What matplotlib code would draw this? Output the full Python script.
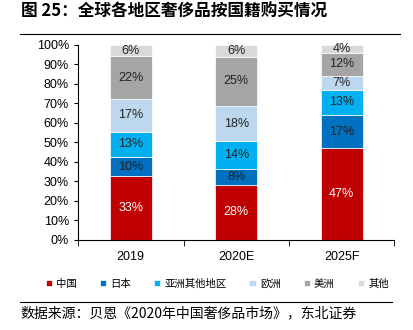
import numpy as np
import matplotlib.pyplot as plt
from matplotlib.ticker import FuncFormatter

plt.rcParams['font.family'] = ['Liberation Sans', 'Noto Sans CJK SC', 'DejaVu Sans']

years = ['2019', '2020E', '2025F']
regions = ['中国', '日本', '亚洲其他地区', '欧洲', '美洲', '其他']
china = [33, 28, 47]
japan = [10, 8, 17]
asia_other = [13, 14, 13]
europe = [17, 18, 7]
america = [22, 25, 12]
other = [6, 6, 4]
colors = ['#C00000', '#0070C0', '#00B0F0', '#BDD7EE', '#A5A5A5', '#D9D9D9']
label_colors = ['white', '#222222', '#222222', '#222222', '#222222', '#222222']

series = np.array([china, japan, asia_other, europe, america, other], dtype=float)
# bars are drawn as shares of 100% (rounded labels don't always add to 100)
shares = series / series.sum(axis=0) * 100

fig = plt.figure(figsize=(4.13, 3.3), dpi=100)
ax = fig.add_axes([0.189, 0.273, 0.766, 0.591])

x = np.arange(len(years))
bottom = np.zeros(len(years))
for i, name in enumerate(regions):
    ax.bar(x, shares[i], 0.4, bottom=bottom, color=colors[i], label=name,
           edgecolor='white', linewidth=0.5)
    for j in range(len(years)):
        ax.text(x[j], bottom[j] + shares[i][j] / 2, f'{int(series[i][j])}%',
                ha='center', va='center', fontsize=9, color=label_colors[i])
    bottom += shares[i]

ax.set_xlim(-0.5, 2.5)
ax.set_ylim(0, 100)
ax.set_yticks(np.arange(0, 101, 10))
ax.yaxis.set_major_formatter(FuncFormatter(lambda v, p: f'{int(v)}%'))
ax.set_xticks(x)
ax.set_xticklabels(years)
ax.set_xticks([-0.5, 0.5, 1.5, 2.5], minor=True)
ax.tick_params(axis='x', which='major', length=0, labelsize=9, pad=8)
ax.tick_params(axis='x', which='minor', length=4, direction='out')
ax.tick_params(axis='y', length=3, labelsize=9)
ax.spines['top'].set_visible(False)
ax.spines['right'].set_visible(False)

ax.legend(loc='upper center', bbox_to_anchor=(0.44, -0.15), ncol=6, frameon=False,
          handlelength=0.6, handleheight=0.6, handletextpad=0.4,
          columnspacing=2.2, prop={'family': 'Noto Sans CJK SC', 'size': 7.5})

fig.text(0.05, 0.963, '图 25：全球各地区奢侈品按国籍购买情况', fontsize=12, fontweight='bold',
         va='center', family=['Noto Sans CJK SC'])
fig.add_artist(plt.Line2D([0.048, 0.968], [0.897, 0.897], color='black', linewidth=0.8))
fig.add_artist(plt.Line2D([0.048, 0.95], [0.085, 0.085], color='black', linewidth=0.8))
fig.text(0.05, 0.05, '数据来源：贝恩《2020年中国奢侈品市场》，东北证券', fontsize=10,
         va='center', family=['Noto Sans CJK SC'])

fig.savefig('out.png', dpi=100)
